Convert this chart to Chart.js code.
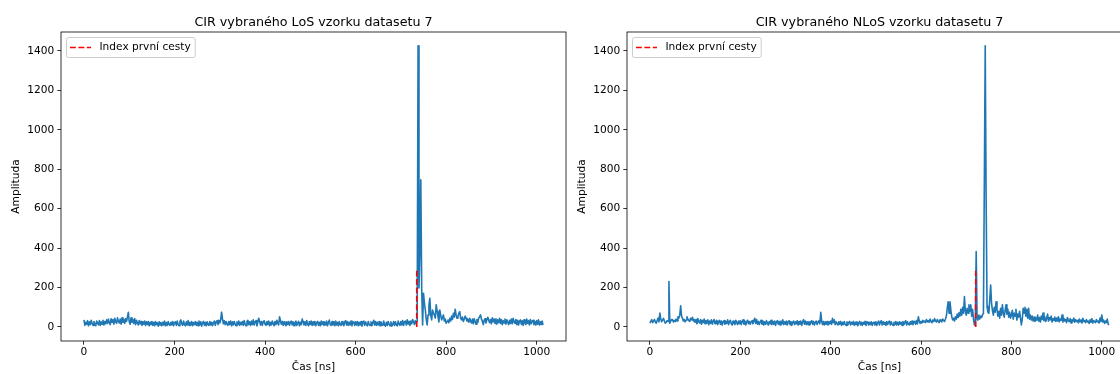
<!DOCTYPE html>
<html>
<head>
<meta charset="utf-8">
<title>CIR vzorků datasetu 7</title>
<script src="https://cdn.jsdelivr.net/npm/chart.js@4.4.0/dist/chart.umd.min.js"></script>
<style>
  body {
    margin: 0;
    width: 1120px;
    height: 374px;
    overflow: hidden;
    position: relative;
    background: #fff;
  }
  canvas {
    position: absolute;
    top: 0;
  }
  #cirLos { left: 0; }
  #cirNlos { left: 575px; }
</style>
</head>
<body>
<canvas id="cirLos" width="575" height="374"></canvas>
<canvas id="cirNlos" width="565" height="374"></canvas>
<script>
// vzorkovani CIR po 2 ns
const krokNs = 2;

// amplituda LoS vzorku, 0 .. 1014 ns
const amplitudaLos = [
  36,8,24,14,32,6,26,12,34,18,8,28,14,6,30,20,10,32,8,26,14,34,10,28,16,
  36,18,40,22,12,42,24,38,14,44,26,18,46,28,20,40,14,46,24,38,18,42,28,50,74,
  26,14,46,24,38,18,42,12,34,20,10,32,16,28,8,26,14,30,8,26,12,28,6,24,12,
  28,8,24,6,28,12,22,4,26,10,22,6,24,10,30,6,22,8,28,12,8,24,10,28,6,
  22,26,8,30,12,6,28,36,16,8,30,12,6,26,10,32,8,24,10,28,6,22,12,28,8,
  24,6,30,10,26,4,22,28,8,24,6,26,12,8,28,10,24,6,22,30,8,26,32,12,34,
  20,36,75,40,16,32,12,28,14,8,28,12,30,6,26,10,28,14,6,26,12,30,8,24,12,
  28,8,32,14,6,28,34,12,26,8,30,12,36,10,26,32,6,24,44,28,10,28,8,26,32,
  14,8,28,12,30,6,24,10,30,16,6,28,12,34,18,10,52,30,14,28,8,26,14,6,26,
  12,28,8,24,30,10,26,6,22,30,8,22,28,6,24,12,40,26,10,26,8,32,14,6,28,
  12,30,8,26,10,28,6,22,28,8,24,6,30,12,26,8,24,10,30,6,22,35,12,8,28,
  10,26,6,30,10,24,6,28,12,8,28,14,6,26,32,10,28,8,24,10,30,6,22,26,8,
  26,10,28,6,24,10,28,4,22,30,8,26,12,6,28,12,8,26,6,22,34,10,28,8,24,
  10,28,6,26,12,8,30,10,4,24,8,28,14,6,26,4,12,28,8,26,10,6,30,14,8,
  28,10,32,8,26,30,10,36,14,28,8,30,16,38,26,12,32,18,30,1426,198,380,746,196,10,
  171,120,86,40,10,60,110,146,60,36,86,70,61,45,112,80,52,25,86,60,36,48,61,30,40,
  19,28,35,22,44,30,55,38,69,50,90,60,44,52,70,78,45,36,50,28,40,55,44,30,38,
  24,44,30,20,40,16,42,28,14,38,24,46,52,61,40,30,12,34,42,20,38,49,34,22,38,
  16,46,26,40,18,42,14,36,22,44,18,38,12,32,20,40,14,36,24,12,34,18,40,16,44,
  26,18,38,12,34,10,30,36,14,32,8,36,20,12,40,18,32,10,38,16,30,34,12,28,10,
  32,14,36,10,26,12,30,10
];

// amplituda NLoS vzorku, 0 .. 1016 ns
const amplitudaNlos = [
  19,28,37,22,30,38,25,19,33,45,26,70,40,27,35,44,30,19,24,32,28,230,19,30,37,
  37,25,33,28,40,30,52,45,60,107,55,44,30,38,26,35,52,40,33,28,44,36,49,30,38,
  24,38,16,42,26,20,38,14,34,22,40,16,32,20,36,12,30,18,36,14,30,38,16,28,34,
  12,28,34,14,30,10,26,32,14,28,18,36,12,28,34,16,10,30,20,12,34,22,12,30,16,
  32,12,28,36,14,30,10,26,34,16,28,14,26,32,16,30,44,18,38,14,28,12,26,34,14,
  30,10,26,14,32,18,10,28,16,34,12,28,14,30,8,26,32,14,28,10,30,16,36,12,26,
  14,30,10,26,32,12,28,8,24,30,12,26,16,32,10,28,14,30,8,26,37,14,30,12,26,
  12,28,10,26,32,14,28,10,24,30,12,26,32,16,74,30,12,28,10,26,14,28,10,26,16,
  30,14,44,22,36,12,26,16,10,26,14,28,8,24,12,28,14,8,26,10,24,28,10,24,14,
  28,8,24,12,26,6,22,28,10,24,8,24,14,28,8,22,26,10,24,12,26,8,22,24,10,
  26,8,22,30,10,24,32,10,26,14,24,8,28,12,24,30,10,26,14,8,24,12,28,10,24,
  10,26,14,24,8,28,12,24,32,10,26,14,10,26,14,30,12,24,28,14,33,16,52,30,18,
  28,20,34,25,30,22,38,26,32,24,40,28,22,35,27,42,30,25,38,28,22,36,30,26,40,
  32,28,40,55,95,128,70,128,85,50,36,44,30,52,40,65,48,72,55,90,60,100,70,154,80,
  60,95,70,112,80,112,55,90,40,10,30,382,35,44,60,40,55,48,62,69,720,1426,650,103,75,
  69,140,213,120,83,60,100,75,128,90,55,80,45,95,60,112,70,50,85,112,65,90,50,75,45,
  60,85,40,70,55,90,35,65,50,80,45,10,40,95,70,100,55,90,45,95,40,60,35,55,30,
  50,28,45,35,60,30,48,25,55,38,70,32,50,28,44,65,30,48,36,55,25,42,33,50,28,
  45,30,52,26,40,34,60,25,44,30,38,22,48,32,27,42,20,36,30,45,24,38,28,33,21,
  40,26,35,20,44,28,32,22,38,25,30,18,36,24,42,20,33,27,22,38,26,30,20,45,28,
  61,25,35,18,30,22,40,15,10
];

// index prvni cesty [ns] a vyska znacky
const prvniCestaLos = 735;
const prvniCestaNlos = 721;
const vyskaZnacky = 290;

const xTicks = [0, 200, 400, 600, 800, 1000];
const yTicks = [0, 200, 400, 600, 800, 1000, 1200, 1400];

const FONT = "'DejaVu Sans', 'Liberation Sans', sans-serif";
const PISMO = 10.6;
const PISMO_NADPIS = 12.7;

// ramecek os, nadpis a legenda uvnitr grafu
const popisky = {
  id: "popisky",
  afterDraw(chart, args, opts) {
    const { ctx, chartArea: a } = chart;
    ctx.save();

    ctx.strokeStyle = "#000";
    ctx.lineWidth = 0.8;
    ctx.strokeRect(a.left, a.top, a.right - a.left, a.bottom - a.top);

    ctx.fillStyle = "#000";
    ctx.font = PISMO_NADPIS + "px " + FONT;
    ctx.textAlign = "center";
    ctx.textBaseline = "alphabetic";
    ctx.fillText(opts.nazev, (a.left + a.right) / 2, a.top - 6.4);

    // legenda
    const text = "Index první cesty";
    ctx.font = PISMO + "px " + FONT;
    const tw = ctx.measureText(text).width;
    const bx = a.left + 5, by = a.top + 5;
    const bw = 4 + 21 + 8.5 + tw + 4, bh = 20;
    ctx.beginPath();
    ctx.roundRect(bx + 0.5, by + 0.5, bw, bh, 2);
    ctx.fillStyle = "rgba(255,255,255,0.8)";
    ctx.fill();
    ctx.strokeStyle = "#cccccc";
    ctx.lineWidth = 1;
    ctx.stroke();

    const cy = by + bh / 2 + 0.5;
    ctx.beginPath();
    ctx.setLineDash([5.9, 2.5]);
    ctx.strokeStyle = "#ff0000";
    ctx.lineWidth = 1.6;
    ctx.moveTo(bx + 4, cy);
    ctx.lineTo(bx + 25, cy);
    ctx.stroke();
    ctx.setLineDash([]);

    ctx.fillStyle = "#000";
    ctx.textAlign = "left";
    ctx.textBaseline = "middle";
    ctx.fillText(text, bx + 33.5, cy);

    ctx.restore();
  },
};

function vytvorGraf(id, nazev, amplituda, prvniCesta, sirkaY, odsazeniY, xMax, pravyOkraj) {
  const body = amplituda.map((v, i) => ({ x: i * krokNs, y: v }));
  const tick = { font: { family: FONT, size: PISMO }, color: "#000", callback: (v) => String(v) };
  const grid = {
    display: true,
    drawOnChartArea: false,
    drawTicks: true,
    tickLength: 3.7,
    color: "#000",
    lineWidth: 0.8,
  };

  return new Chart(document.getElementById(id), {
    type: "line",
    data: {
      datasets: [
        {
          label: "Index první cesty",
          data: [{ x: prvniCesta, y: 0 }, { x: prvniCesta, y: vyskaZnacky }],
          borderColor: "#ff0000",
          borderDash: [5.9, 2.5],
          borderWidth: 1.6,
          pointRadius: 0,
        },
        {
          label: "CIR",
          data: body,
          borderColor: "#1f77b4",
          borderWidth: 1.6,
          borderJoinStyle: "round",
          pointRadius: 0,
        },
      ],
    },
    options: {
      responsive: false,
      animation: false,
      devicePixelRatio: 1,
      layout: { padding: { top: 32, right: pravyOkraj, left: 0, bottom: 0 } },
      plugins: {
        legend: { display: false },
        tooltip: { enabled: false },
        popisky: { nazev },
      },
      scales: {
        x: {
          type: "linear",
          min: -50.75,
          max: xMax,
          afterBuildTicks: (s) => { s.ticks = xTicks.map((v) => ({ value: v })); },
          afterFit: (s) => { s.height = 33; },
          grid,
          border: { display: false },
          ticks: { ...tick, padding: 1.5, maxRotation: 0, autoSkip: false },
          title: {
            display: true,
            text: "Čas [ns]",
            font: { family: FONT, size: PISMO },
            color: "#000",
            padding: { top: 0, bottom: 0 },
          },
        },
        y: {
          type: "linear",
          min: -71.2,
          max: 1496.2,
          afterBuildTicks: (s) => { s.ticks = yTicks.map((v) => ({ value: v })); },
          afterFit: (s) => { s.width = sirkaY; },
          grid,
          border: { display: false },
          ticks: { ...tick, padding: 3, autoSkip: false },
          title: {
            display: true,
            text: "Amplituda",
            font: { family: FONT, size: PISMO },
            color: "#000",
            padding: { top: odsazeniY, bottom: 0 },
          },
        },
      },
    },
    plugins: [popisky],
  });
}

vytvorGraf("cirLos", "CIR vybraného LoS vzorku datasetu 7", amplitudaLos, prvniCestaLos, 61, 9.5, 1064.75, 9);
vytvorGraf("cirNlos", "CIR vybraného NLoS vzorku datasetu 7", amplitudaNlos, prvniCestaNlos, 52, 0.5, 1066.8, 8);
</script>
</body>
</html>
